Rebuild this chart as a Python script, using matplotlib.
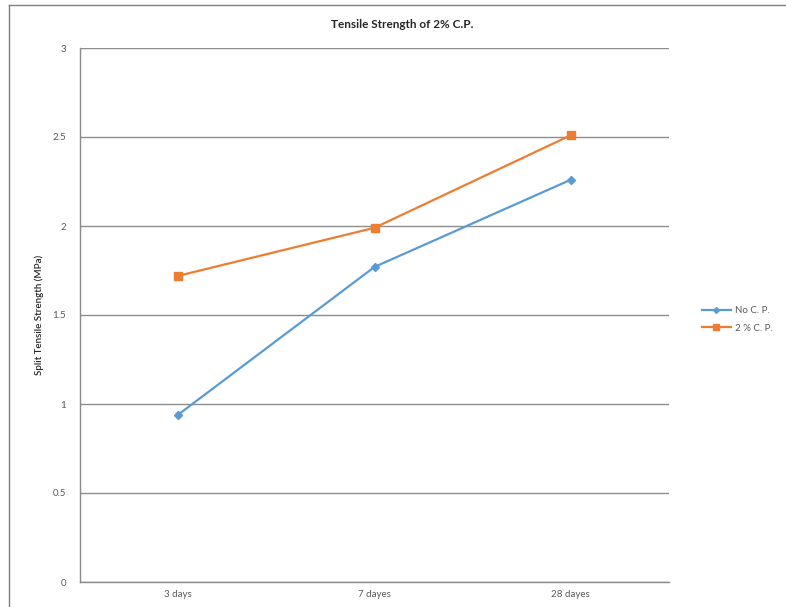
import matplotlib
matplotlib.use("Agg")
import matplotlib.pyplot as plt
from matplotlib.lines import Line2D

# chart data
ages = ["3 days", "7 dayes", "28 dayes"]
no_cp = [0.94, 1.77, 2.26]
cp_2 = [1.72, 1.99, 2.51]
y_ticks = [0, 0.5, 1, 1.5, 2, 2.5, 3]

BLUE = "#5B9BD5"
ORANGE = "#ED7D31"
GRID = "#8C8C8C"
TEXT = "#595959"

plt.rcParams["font.family"] = ["Lato", "DejaVu Sans"]

fig = plt.figure(figsize=(7.86, 6.07), dpi=100)
W, H = 786, 607
ax = fig.add_axes([80 / W, 1 - 582 / H, 589 / W, 534 / H])

x = list(range(len(ages)))
ax.plot(x, no_cp, color=BLUE, lw=1.6, marker="D", markersize=4, label="No C. P.")
ax.plot(x, cp_2, color=ORANGE, lw=1.6, marker="s", markersize=6, label="2 % C. P.")

ax.set_xlim(-0.5, len(ages) - 0.5)
ax.set_ylim(0, 3)
ax.set_yticks(y_ticks)
ax.set_yticklabels([f"{v:g}" for v in y_ticks])
ax.set_xticks(x)
ax.set_xticklabels(ages)
ax.yaxis.grid(True, color=GRID, lw=1.0)
ax.set_axisbelow(True)
ax.tick_params(axis="both", length=0, labelsize=7, colors=TEXT)
ax.tick_params(axis="y", pad=10)
ax.tick_params(axis="x", pad=6)
for side in ["top", "right"]:
    ax.spines[side].set_visible(False)
for side in ["left", "bottom"]:
    ax.spines[side].set_color(GRID)
    ax.spines[side].set_linewidth(1.0)

ax.set_ylabel("Split Tensile Strength (MPa)", fontsize=7, color="#262626",
              fontweight="semibold", labelpad=6)
fig.text(402 / W, 1 - 24 / H, "Tensile Strength of 2% C.P.", ha="center", va="center",
         fontsize=8.5, fontweight="bold", color="#262626")

fig.legend(loc="center left", bbox_to_anchor=(693 / W, 1 - 319.5 / H), frameon=False,
           fontsize=7, handlelength=3.0, handletextpad=0.4, labelspacing=0.9,
           markerscale=0.75, labelcolor=TEXT)

# outer chart frame (only top and left edges are visible in the crop)
fig.add_artist(Line2D([9 / W, 1], [1 - 5 / H, 1 - 5 / H], color="#7F7F7F", lw=1.0))
fig.add_artist(Line2D([9 / W, 9 / W], [0, 1 - 5 / H], color="#7F7F7F", lw=1.0))

fig.savefig("out.png", dpi=100)
